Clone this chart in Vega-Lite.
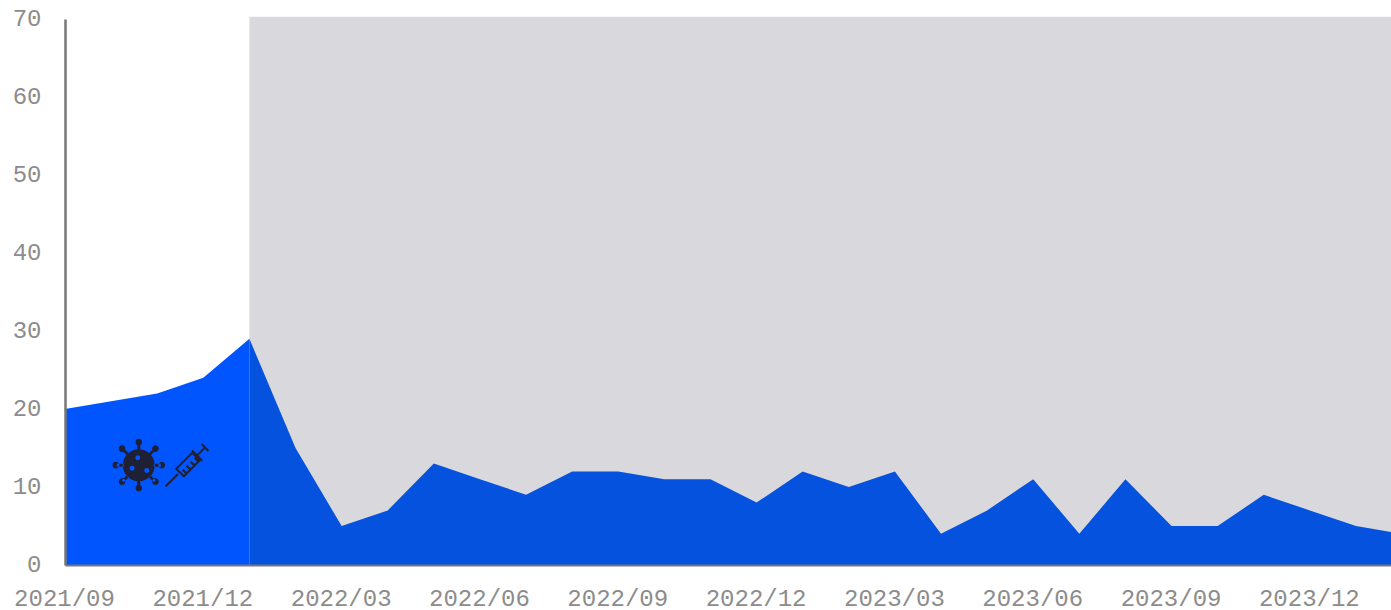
{"$schema":"https://vega.github.io/schema/vega-lite/v6.json","width":1326,"height":546,"autosize":{"type":"none"},"padding":{"left":65,"top":19,"right":0,"bottom":45},"background":"#ffffff","view":{"stroke":null},
"datasets":{"series":[
{"i":0,"month":"2021/09","v":20,"seg":"before"},{"i":1,"month":"2021/10","v":21,"seg":"before"},{"i":2,"month":"2021/11","v":22,"seg":"before"},{"i":3,"month":"2021/12","v":24,"seg":"before"},{"i":4,"month":"2022/01","v":29,"seg":"before"},
{"i":4,"month":"2022/01","v":29,"seg":"after"},{"i":5,"month":"2022/02","v":15,"seg":"after"},{"i":6,"month":"2022/03","v":5,"seg":"after"},{"i":7,"month":"2022/04","v":7,"seg":"after"},{"i":8,"month":"2022/05","v":13,"seg":"after"},{"i":9,"month":"2022/06","v":11,"seg":"after"},{"i":10,"month":"2022/07","v":9,"seg":"after"},{"i":11,"month":"2022/08","v":12,"seg":"after"},{"i":12,"month":"2022/09","v":12,"seg":"after"},{"i":13,"month":"2022/10","v":11,"seg":"after"},{"i":14,"month":"2022/11","v":11,"seg":"after"},{"i":15,"month":"2022/12","v":8,"seg":"after"},{"i":16,"month":"2023/01","v":12,"seg":"after"},{"i":17,"month":"2023/02","v":10,"seg":"after"},{"i":18,"month":"2023/03","v":12,"seg":"after"},{"i":19,"month":"2023/04","v":4,"seg":"after"},{"i":20,"month":"2023/05","v":7,"seg":"after"},{"i":21,"month":"2023/06","v":11,"seg":"after"},{"i":22,"month":"2023/07","v":4,"seg":"after"},{"i":23,"month":"2023/08","v":11,"seg":"after"},{"i":24,"month":"2023/09","v":5,"seg":"after"},{"i":25,"month":"2023/10","v":5,"seg":"after"},{"i":26,"month":"2023/11","v":9,"seg":"after"},{"i":27,"month":"2023/12","v":7,"seg":"after"},{"i":28,"month":"2024/01","v":5,"seg":"after"},{"i":29,"month":"2024/02","v":4,"seg":"after"}]},
"layer":[
{"data":{"values":[{"start":4,"end":28.76,"low":0,"high":70.3}]},"mark":{"type":"rect","color":"#d9d8dd"},
"encoding":{"x":{"field":"start","type":"quantitative","scale":{"domain":[0,28.76],"nice":false,"zero":false},
"axis":{"zindex":1,"values":[0,3,6,9,12,15,18,21,24,27],"labelExpr":"['2021/09','2021/12','2022/03','2022/06','2022/09','2022/12','2023/03','2023/06','2023/09','2023/12'][round(datum.value/3)]","title":null,"grid":false,"ticks":false,"domainColor":"#777777","domainWidth":2,"labelFont":"Liberation Mono","labelFontSize":24,"labelColor":"#8c8c8c","labelPadding":21,"labelOffset":-1,"labelFlush":false,"labelOverlap":false,"labelBound":false}},
"x2":{"field":"end"},
"y":{"field":"low","type":"quantitative","scale":{"domain":[0,70],"nice":false},
"axis":{"zindex":1,"values":[0,10,20,30,40,50,60,70],"title":null,"grid":false,"ticks":false,"domainColor":"#777777","domainWidth":2.5,"labelFont":"Liberation Mono","labelFontSize":24,"labelColor":"#8c8c8c","labelPadding":24,"labelOffset":-1,"labelOverlap":false,"labelBound":false}},
"y2":{"field":"high"}}},
{"data":{"name":"series"},"mark":{"type":"area","clip":true,"interpolate":"linear","line":false},
"encoding":{"x":{"field":"i","type":"quantitative"},"y":{"field":"v","type":"quantitative","stack":null},
"color":{"field":"seg","type":"nominal","legend":null,"scale":{"domain":["before","after"],"range":["#0055ff","#0552df"]}}}},
{"data":{"values":[{"i":1.6,"v":12.8}]},"mark":{"type":"point","filled":true,"opacity":1,"color":"#1f2033","size":4,"shape":"M-16 0A16 16 0 1 1 16 0A16 16 0 1 1 -16 0ZM-3.5 -7.5A2.5 2.5 0 1 0 1.5 -7.5A2.5 2.5 0 1 0 -3.5 -7.5ZM-9.2 3A2.5 2.5 0 1 0 -4.2 3A2.5 2.5 0 1 0 -9.2 3ZM5.5 5.3A2.5 2.5 0 1 0 10.5 5.3A2.5 2.5 0 1 0 5.5 5.3ZM-1.5 -22H1.5V-15H-1.5ZM-1.5 15H1.5V22H-1.5ZM-22 -1.5V1.5H-15V-1.5ZM15 -1.5V1.5H22V-1.5ZM-17 -15L-15 -17L-10 -12L-12 -10ZM15 -17L17 -15L12 -10L10 -12ZM-17 15L-15 17L-10 12L-12 10ZM15 17L17 15L12 10L10 12ZM-3.3 -23A3.3 3.3 0 1 1 3.3 -23A3.3 3.3 0 1 1 -3.3 -23ZM-3.3 23A3.3 3.3 0 1 1 3.3 23A3.3 3.3 0 1 1 -3.3 23ZM-26.3 0A3.3 3.3 0 1 1 -19.7 0A3.3 3.3 0 1 1 -26.3 0ZM19.7 0A3.3 3.3 0 1 1 26.3 0A3.3 3.3 0 1 1 19.7 0ZM-20 -16.5A3.3 3.3 0 1 1 -13.4 -16.5A3.3 3.3 0 1 1 -20 -16.5ZM13.4 -16.5A3.3 3.3 0 1 1 20 -16.5A3.3 3.3 0 1 1 13.4 -16.5ZM-20 16.5A3.3 3.3 0 1 1 -13.4 16.5A3.3 3.3 0 1 1 -20 16.5ZM13.4 16.5A3.3 3.3 0 1 1 20 16.5A3.3 3.3 0 1 1 13.4 16.5Z"},
"encoding":{"x":{"field":"i","type":"quantitative"},"y":{"field":"v","type":"quantitative"}}},
{"data":{"values":[{"i":2.625,"v":12.76}]},"mark":{"type":"point","filled":false,"opacity":1,"color":"#1f2033","strokeWidth":2,"size":4,"shape":"M-20.3 20.7L-8 8.5M-9.8 3.2L-2.2 10.8L13.8 -5.2L6.2 -12.8ZM5.8 -15.2L16.2 -4.8M11 -10L19 -18M15.5 -21.5L22.5 -14.5M0 7.6L-3.4 4.2M4 3.6L0.6 0.2M8 -0.4L4.6 -3.8M12 -4.4L8.6 -7.8"},
"encoding":{"x":{"field":"i","type":"quantitative"},"y":{"field":"v","type":"quantitative"}}}
],
"resolve":{"scale":{"x":"shared","y":"shared"}}}
